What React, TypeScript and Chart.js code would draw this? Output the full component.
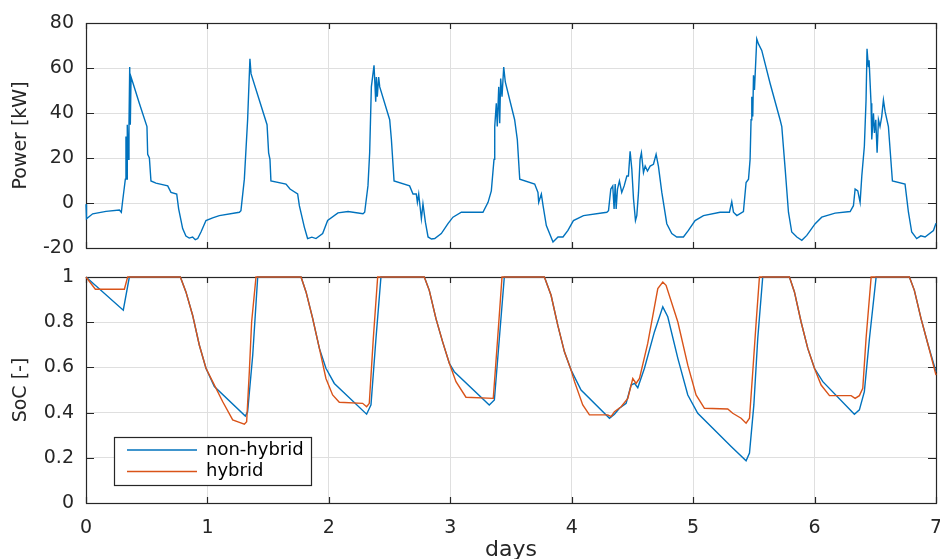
import React, { useEffect, useRef } from 'react';
import { Chart, registerables } from 'chart.js';

Chart.register(...registerables);

// ---------------- data ----------------
const powerDays = [
  0.0, 0.004, 0.055, 0.165, 0.275, 0.291, 0.302, 0.324, 0.329, 0.338, 0.34, 0.349, 0.354, 0.36, 0.365, 0.371, 0.384, 0.439, 0.502, 0.508, 0.522, 0.535, 0.576, 0.673, 0.7, 0.747, 0.763, 0.796, 0.823, 0.85, 0.878, 0.9, 0.92, 0.947, 0.988,
  1.043, 1.098, 1.263, 1.276, 1.304, 1.331, 1.35, 1.359, 1.427, 1.491, 1.504, 1.515, 1.523, 1.647, 1.68, 1.743, 1.757, 1.798, 1.825, 1.86, 1.894, 1.949, 1.99,
  2.075, 2.158, 2.281, 2.295, 2.322, 2.336, 2.35, 2.372, 2.386, 2.391, 2.399, 2.41, 2.419, 2.501, 2.515, 2.537, 2.665, 2.693, 2.72, 2.729, 2.74, 2.762, 2.775, 2.795, 2.817, 2.845, 2.872, 2.926, 2.981,
  3.022, 3.091, 3.269, 3.311, 3.338, 3.36, 3.366, 3.379, 3.387, 3.399, 3.407, 3.415, 3.426, 3.44, 3.453, 3.53, 3.552, 3.572, 3.695, 3.722, 3.728, 3.75, 3.764, 3.791, 3.846, 3.887, 3.928, 3.969,
  4.014, 4.097, 4.289, 4.303, 4.322, 4.338, 4.349, 4.358, 4.366, 4.377, 4.393, 4.412, 4.432, 4.454, 4.467, 4.481, 4.495, 4.509, 4.525, 4.536, 4.55, 4.563, 4.574, 4.591, 4.605, 4.624, 4.646, 4.673, 4.695, 4.714, 4.742, 4.783, 4.824, 4.865, 4.92, 4.961,
  5.016, 5.085, 5.222, 5.299, 5.318, 5.332, 5.36, 5.414, 5.436, 5.456, 5.469, 5.477, 5.483, 5.491, 5.497, 5.505, 5.524, 5.538, 5.565, 5.634, 5.716, 5.73, 5.758, 5.785, 5.812, 5.854, 5.895, 5.936,
  6.005, 6.059, 6.169, 6.293, 6.32, 6.334, 6.356, 6.375, 6.389, 6.41, 6.424, 6.432, 6.443, 6.449, 6.465, 6.471, 6.485, 6.493, 6.504, 6.515, 6.526, 6.539, 6.553, 6.567, 6.581, 6.608, 6.641, 6.745, 6.773, 6.8, 6.841, 6.875, 6.91, 6.979, 7.0,
];
const powerKW = [
  -0.5, -7, -4.8, -3.7, -3.1, -4.1, 1, 10.6, 29.6, 10.6, 34.8, 19.4, 34.8, 60.4, 34.8, 56, 53.8, 44.3, 34, 21.6, 20, 9.8, 8.8, 7.6, 4.7, 4, -2.6, -11.4, -14.7, -15.6, -15.1, -16.3, -15.8, -12.9, -7.8,
  -6.6, -5.6, -4.1, -3.4, 10.6, 37, 64.1, 57.5, 45.8, 34.8, 22.3, 19.4, 9.8, 8.4, 6.2, 4, -1.2, -10.7, -15.8, -15.2, -15.8, -13.6, -7.8,
  -4.4, -3.8, -4.8, -4.1, 7.6, 22.3, 51.6, 61.2, 45, 56, 47.2, 56, 51.6, 37, 28.2, 9.8, 7.6, 4, 4, 0.3, 4, -7, -0.4, -8.5, -15.1, -16, -15.8, -13.6, -9.2,
  -6.3, -4.1, -4.1, 0.3, 5.4, 19.4, 34, 44.3, 34, 51.6, 35.5, 55.3, 47.2, 60.4, 53.8, 37, 28.2, 10.6, 8.4, 4.7, 0.3, 4, -1.2, -10, -17.3, -15.1, -15.1, -12.2,
  -7.8, -5.6, -4.1, -3.4, 6.2, 7.6, -2.6, 8.4, -2.6, 6.2, 9.8, 4.7, 7.6, 12, 12, 23, 15, 1.8, -7.8, -5.6, 4.7, 19.4, 22.3, 13.5, 16.4, 14.2, 16.4, 17.2, 21.6, 16.4, 4.7, -9.2, -13.6, -15.1, -15.1, -12.2,
  -7.8, -5.6, -4.1, -4.1, 0.6, -4.1, -5.6, -3.8, 9.1, 10.6, 19.4, 37, 47.2, 38.4, 56.8, 50.2, 72.9, 70.7, 67.8, 53.1, 37, 34, 15, -4.1, -12.9, -15.1, -16.6, -14.4,
  -9.2, -6.3, -4.5, -3.8, -1.2, 6.2, 5.4, 0.3, 12, 25.2, 45.8, 68.5, 60.4, 63.4, 44.3, 28.2, 39.9, 31.1, 37, 22.3, 37, 34, 38.4, 45.8, 40.6, 34, 9.8, 8.4, -4.1, -12.9, -15.8, -14.6, -15.1, -12.2, -9,
];

const socNonHybridDays = [
  0, 0.307, 0.357, 0.777, 0.823, 0.878, 0.933, 0.988, 1.057, 1.312, 1.331, 1.373, 1.414,
  1.771, 1.812, 1.867, 1.922, 1.976, 2.045, 2.311, 2.347, 2.388, 2.429,
  2.786, 2.827, 2.882, 2.937, 2.992, 3.033, 3.321, 3.363, 3.404, 3.445,
  3.775, 3.83, 3.885, 3.94, 3.995, 4.077, 4.311, 4.352, 4.393, 4.448, 4.489, 4.517, 4.544, 4.599, 4.681, 4.75, 4.791, 4.874, 4.956, 5.038, 5.313, 5.436, 5.464, 5.5, 5.532, 5.573,
  5.793, 5.834, 5.889, 5.944, 5.999, 6.068, 6.328, 6.369, 6.41, 6.452, 6.507,
  6.781, 6.822, 6.877, 6.932, 7.0,
];
const socNonHybrid = [
  1, 0.853, 1, 1, 0.934, 0.831, 0.699, 0.596, 0.515, 0.385, 0.404, 0.654, 1,
  1, 0.934, 0.816, 0.684, 0.596, 0.529, 0.393, 0.434, 0.728, 1,
  1, 0.941, 0.816, 0.713, 0.618, 0.581, 0.434, 0.456, 0.728, 1,
  1, 0.919, 0.787, 0.669, 0.588, 0.5, 0.375, 0.393, 0.419, 0.441, 0.522, 0.529, 0.51, 0.596, 0.757, 0.868, 0.824, 0.64, 0.478, 0.397, 0.25, 0.187, 0.221, 0.434, 0.728, 1,
  1, 0.934, 0.801, 0.684, 0.596, 0.537, 0.393, 0.412, 0.493, 0.728, 1,
  1, 0.941, 0.816, 0.706, 0.581,
];

const socHybridDays = [
  0, 0.077, 0.316, 0.343, 0.777, 0.823, 0.878, 0.933, 0.988, 1.043, 1.125, 1.208, 1.263, 1.304, 1.323, 1.345, 1.364, 1.4,
  1.771, 1.812, 1.867, 1.922, 1.976, 2.031, 2.086, 2.278, 2.311, 2.333, 2.366, 2.402,
  2.786, 2.827, 2.882, 2.937, 2.992, 3.047, 3.129, 3.354, 3.39, 3.426,
  3.775, 3.83, 3.885, 3.94, 3.995, 4.023, 4.091, 4.146, 4.297, 4.324, 4.352, 4.407, 4.462, 4.503, 4.53, 4.558, 4.626, 4.709, 4.75, 4.777, 4.874, 4.956, 5.024, 5.093, 5.285, 5.326, 5.395, 5.436, 5.464, 5.491, 5.519, 5.546,
  5.793, 5.834, 5.889, 5.944, 5.999, 6.054, 6.123, 6.301, 6.334, 6.369, 6.397, 6.424, 6.466,
  6.781, 6.822, 6.877, 6.932, 7.0,
];
const socHybrid = [
  1, 0.946, 0.946, 1, 1, 0.934, 0.831, 0.699, 0.596, 0.537, 0.449, 0.368, 0.357, 0.349, 0.36, 0.581, 0.801, 1,
  1, 0.934, 0.816, 0.684, 0.551, 0.478, 0.446, 0.441, 0.426, 0.441, 0.728, 1,
  1, 0.941, 0.816, 0.713, 0.618, 0.537, 0.468, 0.463, 0.728, 1,
  1, 0.919, 0.787, 0.669, 0.588, 0.537, 0.434, 0.39, 0.39, 0.382, 0.404, 0.426, 0.463, 0.551, 0.529, 0.551, 0.706, 0.949, 0.978, 0.963, 0.801, 0.61, 0.478, 0.419, 0.416, 0.397, 0.375, 0.353, 0.375, 0.581, 0.801, 1,
  1, 0.934, 0.801, 0.684, 0.596, 0.522, 0.475, 0.475, 0.463, 0.475, 0.507, 0.728, 1,
  1, 0.941, 0.816, 0.706, 0.566,
];

const seriesLabels = ['non-hybrid', 'hybrid'];
const xTitle = 'days';
const powerTitle = 'Power [kW]';
const socTitle = 'SoC [-]';

// ---------------- style ----------------
const FONT = '"DejaVu Sans", sans-serif';
const AXIS_COLOR = '#262626';
const GRID_COLOR = '#dfdfdf';
const BLUE = '#0072BD';
const ORANGE = '#D95319';

const toPoints = (xs: number[], ys: number[]) => xs.map((x, i) => ({ x, y: ys[i] }));
const fmt = (v: any) => String(Number(Number(v).toFixed(2)));

const boxPlugin = {
  id: 'matlabBox',
  beforeDatasetsDraw(chart: any) {
    const { ctx, chartArea, scales } = chart;
    const { left, right, top, bottom } = chartArea;
    ctx.save();
    ctx.strokeStyle = AXIS_COLOR;
    ctx.lineWidth = 1.2;
    ctx.beginPath();
    const xs = scales.x;
    xs.ticks.forEach((t: any) => {
      const px = Math.round(xs.getPixelForValue(t.value)) + 0.5;
      ctx.moveTo(px, bottom);
      ctx.lineTo(px, bottom - 6);
      ctx.moveTo(px, top);
      ctx.lineTo(px, top + 6);
    });
    const ys = scales.y;
    ys.ticks.forEach((t: any) => {
      const py = Math.round(ys.getPixelForValue(t.value)) + 0.5;
      ctx.moveTo(left, py);
      ctx.lineTo(left + 8, py);
      ctx.moveTo(right, py);
      ctx.lineTo(right - 8, py);
    });
    ctx.stroke();
    ctx.strokeRect(Math.round(left) + 0.5, Math.round(top) + 0.5, Math.round(right - left), Math.round(bottom - top));
    ctx.restore();
  },
};

const legendPlugin = {
  id: 'insideLegend',
  afterDraw(chart: any) {
    const { ctx } = chart;
    const bx = 114, by = 175, bw = 197, bh = 48;
    ctx.save();
    ctx.fillStyle = '#ffffff';
    ctx.fillRect(bx, by, bw, bh);
    ctx.strokeStyle = AXIS_COLOR;
    ctx.lineWidth = 1.2;
    ctx.strokeRect(bx + 0.5, by + 0.5, bw, bh);
    ctx.font = `18px ${FONT}`;
    ctx.textBaseline = 'middle';
    ctx.textAlign = 'left';
    chart.data.datasets.forEach((ds: any, i: number) => {
      const y = by + 13 + i * 21.5;
      ctx.strokeStyle = ds.borderColor;
      ctx.lineWidth = 1.4;
      ctx.beginPath();
      ctx.moveTo(bx + 13, y);
      ctx.lineTo(bx + 83, y);
      ctx.stroke();
      ctx.fillStyle = '#000000';
      ctx.fillText(ds.label, bx + 92, y);
    });
    ctx.restore();
  },
};

function baseX(showLabels: boolean) {
  return {
    type: 'linear',
    min: 0,
    max: 7,
    ticks: {
      display: showLabels,
      stepSize: 1,
      padding: 16,
      color: AXIS_COLOR,
      font: { family: FONT, size: 19, lineHeight: 1 },
      callback: fmt,
    },
    grid: { color: GRID_COLOR, drawTicks: false, lineWidth: 1 },
    border: { display: false },
    title: showLabels
      ? { display: true, text: xTitle, color: AXIS_COLOR, font: { family: FONT, size: 22, lineHeight: 0.82 }, padding: { top: 0, bottom: 0 } }
      : { display: false },
    afterFit: (s: any) => {
      s.height = showLabels ? 56 : 0;
      s.paddingLeft = 0;
      s.paddingRight = 0;
    },
  };
}

function baseY(min: number, max: number, step: number, title: string) {
  return {
    type: 'linear',
    min,
    max,
    ticks: {
      stepSize: step,
      padding: 12,
      color: AXIS_COLOR,
      font: { family: FONT, size: 19, lineHeight: 1 },
      callback: fmt,
    },
    grid: { color: GRID_COLOR, drawTicks: false, lineWidth: 1 },
    border: { display: false },
    title: { display: true, text: title, color: AXIS_COLOR, font: { family: FONT, size: 19, lineHeight: 1 }, padding: { top: 12, bottom: 0 } },
    afterFit: (s: any) => {
      s.width = 86;
      s.paddingTop = 0;
      s.paddingBottom = 0;
    },
  };
}

export default function App() {
  const topRef = useRef<HTMLCanvasElement>(null);
  const botRef = useRef<HTMLCanvasElement>(null);

  useEffect(() => {
    const top = new Chart(topRef.current as HTMLCanvasElement, {
      type: 'line',
      data: {
        datasets: [
          {
            label: 'power',
            data: toPoints(powerDays, powerKW),
            borderColor: BLUE,
            borderWidth: 1.4,
            pointRadius: 0,
            tension: 0,
            fill: false,
            clip: 3,
          },
        ],
      },
      options: {
        responsive: false,
        animation: false,
        devicePixelRatio: 1,
        layout: { padding: { top: 23, right: 4, bottom: 14, left: 0 } },
        plugins: { legend: { display: false }, tooltip: { enabled: false } },
        scales: { x: baseX(false) as any, y: baseY(-20, 80, 20, powerTitle) as any },
      },
      plugins: [boxPlugin],
    });

    const bot = new Chart(botRef.current as HTMLCanvasElement, {
      type: 'line',
      data: {
        datasets: [
          {
            label: seriesLabels[0],
            data: toPoints(socNonHybridDays, socNonHybrid),
            borderColor: BLUE,
            borderWidth: 1.4,
            pointRadius: 0,
            tension: 0,
            fill: false,
            clip: 3,
            order: 1,
          },
          {
            label: seriesLabels[1],
            data: toPoints(socHybridDays, socHybrid),
            borderColor: ORANGE,
            borderWidth: 1.4,
            pointRadius: 0,
            tension: 0,
            fill: false,
            clip: 3,
            order: 0,
          },
        ],
      },
      options: {
        responsive: false,
        animation: false,
        devicePixelRatio: 1,
        layout: { padding: { top: 15, right: 4, bottom: 0, left: 0 } },
        plugins: { legend: { display: false }, tooltip: { enabled: false } },
        scales: { x: baseX(true) as any, y: baseY(0, 1, 0.2, socTitle) as any },
      },
      plugins: [boxPlugin, legendPlugin],
    });

    return () => {
      top.destroy();
      bot.destroy();
    };
  }, []);

  return (
    <div style={{ position: 'absolute', left: 0, top: 0, width: 940, height: 559, background: '#ffffff' }}>
      <canvas ref={topRef} width={940} height={262} style={{ position: 'absolute', left: 0, top: 0, width: 940, height: 262 }} />
      <canvas ref={botRef} width={940} height={297} style={{ position: 'absolute', left: 0, top: 262, width: 940, height: 297 }} />
    </div>
  );
}
